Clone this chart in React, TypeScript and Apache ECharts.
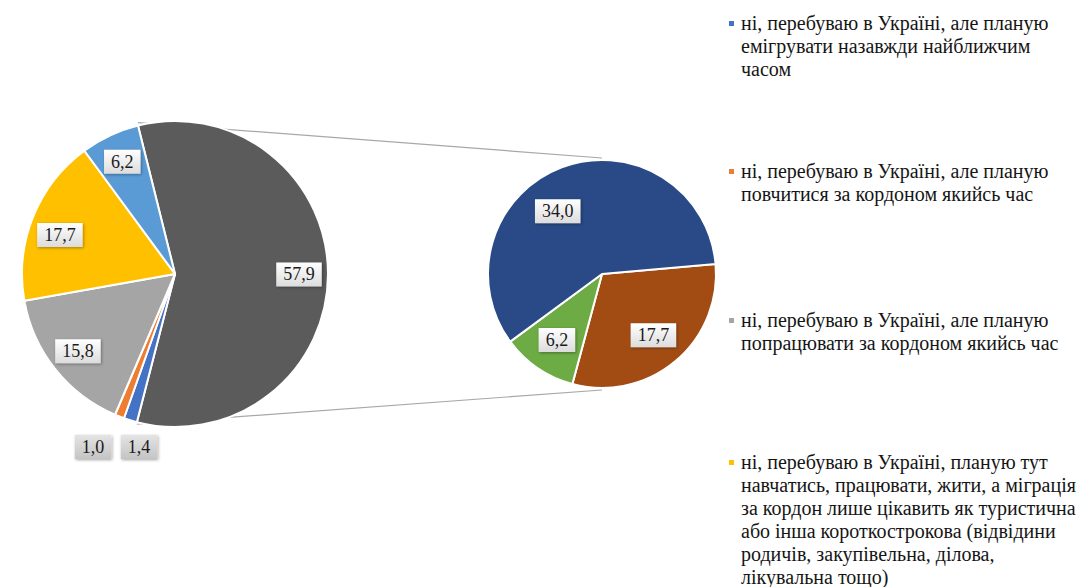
import React, { useEffect, useRef } from 'react';
import * as echarts from 'echarts';

// ---- data ----
const leftNames = [
  'Інша частка',
  'ні, перебуваю в Україні, але планую емігрувати назавжди найближчим часом',
  'ні, перебуваю в Україні, але планую повчитися за кордоном якийсь час',
  'ні, перебуваю в Україні, але планую попрацювати за кордоном якийсь час',
  'ні, перебуваю в Україні, планую тут навчатись, працювати, жити, а міграція за кордон лише цікавить як туристична або інша короткострокова (відвідини родичів, закупівельна, ділова, лікувальна тощо)',
  'Категорія 6',
];
const leftValues = [57.9, 1.4, 1.0, 15.8, 17.7, 6.2];
const leftColors = ['#5b5b5b', '#4472C4', '#ED7D31', '#A5A5A5', '#FFC000', '#5B9BD5'];

const rightNames = ['Складова 17,7', 'Складова 6,2', 'Складова 34,0'];
const rightValues = [17.7, 6.2, 34.0];
const rightColors = ['#A24C14', '#6DAB45', '#294A86'];

const legendSlices = [1, 2, 3, 4];
const legendLines = [
  ['ні, перебуваю в Україні, але планую', 'емігрувати назавжди найближчим', 'часом'],
  ['ні, перебуваю в Україні, але планую', 'повчитися за кордоном якийсь час'],
  ['ні, перебуваю в Україні, але планую', 'попрацювати за кордоном якийсь час'],
  [
    'ні, перебуваю в Україні, планую тут',
    'навчатись, працювати, жити, а міграція',
    'за кордон лише цікавить як туристична',
    'або інша короткострокова (відвідини',
    'родичів, закупівельна, ділова,',
    'лікувальна тощо)',
  ],
];

// ---- layout ----
const W = 1089;
const H = 587;
const CX1 = 175, CY1 = 274, R1 = 153, START1 = 104;
const CX2 = 602, CY2 = 274, R2 = 114, START2 = 5;
const LEGEND_X = 741;
const LEGEND_TOPS = [11.5, 159.5, 308.5, 450.5];
const LINE_H = 23;
const SERIF = 'Liberation Serif';

const fmt = (v: number) => v.toFixed(1).replace('.', ',');

export default function App() {
  const ref = useRef<HTMLDivElement>(null);

  useEffect(() => {
    if (!ref.current) return;
    const chart = echarts.init(ref.current, undefined, { renderer: 'svg' });

    const lightBox = new echarts.graphic.LinearGradient(0, 0, 0, 1, [
      { offset: 0, color: '#ffffff' },
      { offset: 1, color: '#dcdcdc' },
    ]);
    const grayBox = new echarts.graphic.LinearGradient(0, 0, 0, 1, [
      { offset: 0, color: '#e4e4e4' },
      { offset: 1, color: '#c4c4c4' },
    ]);

    const boxLabel = {
      show: true,
      position: 'inside',
      formatter: (p: any) => fmt(p.value),
      color: '#1a1a1a',
      fontFamily: SERIF,
      fontSize: 18,
      backgroundColor: lightBox,
      padding: [4, 7, 2, 7],
      shadowColor: 'rgba(0,0,0,0.35)',
      shadowBlur: 3,
      shadowOffsetX: 1,
      shadowOffsetY: 1,
    };

    const leftSum = leftValues.reduce((a, b) => a + b, 0);
    const otherSpan = (leftValues[0] / leftSum) * 360;
    const a1 = (START1 * Math.PI) / 180;
    const a2 = ((START1 - otherSpan) * Math.PI) / 180;
    const p1 = [CX1 + R1 * Math.cos(a1), CY1 - R1 * Math.sin(a1)];
    const p2 = [CX1 + R1 * Math.cos(a2), CY1 - R1 * Math.sin(a2)];

    const graphics: any[] = [
      {
        type: 'line',
        silent: true,
        z: 0,
        shape: { x1: p1[0], y1: p1[1] - 3, x2: CX2, y2: CY2 - R2 - 2 },
        style: { stroke: '#a8a8a8', lineWidth: 1.2 },
      },
      {
        type: 'line',
        silent: true,
        z: 0,
        shape: { x1: p2[0], y1: p2[1] + 2, x2: CX2, y2: CY2 + R2 + 2 },
        style: { stroke: '#a8a8a8', lineWidth: 1.2 },
      },
    ];

    legendLines.forEach((lines, i) => {
      const top = LEGEND_TOPS[i];
      graphics.push({
        type: 'rect',
        silent: true,
        shape: { x: LEGEND_X - 12, y: top + LINE_H / 2 - 2, width: 5, height: 5 },
        style: { fill: leftColors[legendSlices[i]] },
      });
      graphics.push({
        type: 'text',
        silent: true,
        x: LEGEND_X,
        y: top,
        style: {
          text: lines.join('\n'),
          fontFamily: SERIF,
          fontSize: 20,
          lineHeight: LINE_H,
          fill: '#151515',
          verticalAlign: 'top',
          align: 'left',
        },
      });
    });

    const outsidePos: Record<number, number[]> = { 1: [-36, 173], 2: [-82, 173] };

    chart.setOption({
      animation: false,
      backgroundColor: '#ffffff',
      series: [
        {
          type: 'pie',
          center: [CX1, CY1],
          radius: R1,
          startAngle: START1,
          clockwise: true,
          avoidLabelOverlap: false,
          silent: true,
          label: { show: false },
          labelLine: { show: false },
          itemStyle: { borderColor: '#ffffff', borderWidth: 2 },
          data: leftValues.map((v, i) => ({
            name: leftNames[i],
            value: v,
            itemStyle: { color: leftColors[i] },
          })),
        },
        {
          type: 'pie',
          center: [CX1, CY1],
          radius: [89, R1],
          startAngle: START1,
          clockwise: true,
          avoidLabelOverlap: false,
          silent: true,
          z: 3,
          label: boxLabel,
          labelLine: { show: false },
          itemStyle: { color: 'rgba(0,0,0,0)', borderWidth: 0 },
          labelLayout: (params: any) => {
            const pos = outsidePos[params.dataIndex];
            if (!pos) return params.dataIndex === 4 ? { dy: 7 } : {};
            return { x: CX1 + pos[0], y: CY1 + pos[1], align: 'center', verticalAlign: 'middle' };
          },
          data: leftValues.map((v, i) => ({
            name: leftNames[i] + ' ',
            value: v,
            label: outsidePos[i] ? { backgroundColor: grayBox } : undefined,
          })),
        },
        {
          type: 'pie',
          center: [CX2, CY2],
          radius: R2,
          startAngle: START2,
          clockwise: true,
          avoidLabelOverlap: false,
          silent: true,
          label: { show: false },
          labelLine: { show: false },
          itemStyle: { borderColor: '#ffffff', borderWidth: 2 },
          data: rightValues.map((v, i) => ({
            name: rightNames[i],
            value: v,
            itemStyle: { color: rightColors[i] },
          })),
        },
        {
          type: 'pie',
          center: [CX2, CY2],
          radius: [40, R2],
          startAngle: START2,
          clockwise: true,
          avoidLabelOverlap: false,
          silent: true,
          z: 3,
          label: boxLabel,
          labelLine: { show: false },
          itemStyle: { color: 'rgba(0,0,0,0)', borderWidth: 0 },
          labelLayout: (params: any) =>
            params.dataIndex === 2 ? { dx: -16, dy: 12 } : {},
          data: rightValues.map((v, i) => ({ name: rightNames[i] + ' ', value: v })),
        },
      ],
      graphic: graphics,
    });

    return () => chart.dispose();
  }, []);

  return (
    <div
      ref={ref}
      style={{ position: 'fixed', left: 0, top: 0, width: W, height: H, background: '#fff' }}
    />
  );
}
